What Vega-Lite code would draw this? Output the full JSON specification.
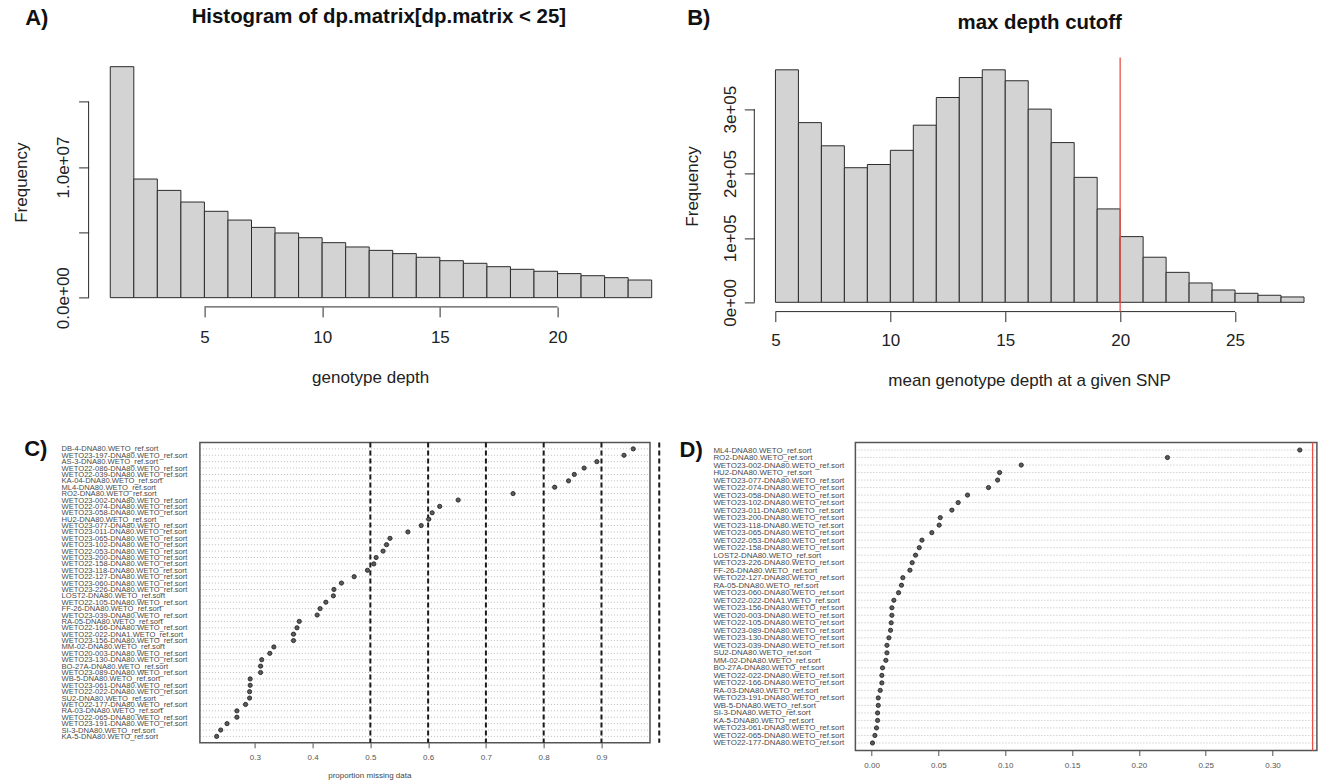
{
  "$schema": "https://vega.github.io/schema/vega-lite/v6.json",
  "autosize": {"type": "none"},
  "padding": {"left": 88.6, "top": 57.4, "right": 1230.4, "bottom": 726.6},
  "background": "white",
  "columns": 2,
  "align": "each",
  "bounds": "flush",
  "spacing": {"row": 130.1, "column": 101.7},
  "datasets": {
    "histA": [
      {"lo": 1, "hi": 2, "count": 17680000}, {"lo": 2, "hi": 3, "count": 9080000},
      {"lo": 3, "hi": 4, "count": 8210000}, {"lo": 4, "hi": 5, "count": 7320000},
      {"lo": 5, "hi": 6, "count": 6610000}, {"lo": 6, "hi": 7, "count": 5940000},
      {"lo": 7, "hi": 8, "count": 5380000}, {"lo": 8, "hi": 9, "count": 4950000},
      {"lo": 9, "hi": 10, "count": 4590000}, {"lo": 10, "hi": 11, "count": 4210000},
      {"lo": 11, "hi": 12, "count": 3880000}, {"lo": 12, "hi": 13, "count": 3620000},
      {"lo": 13, "hi": 14, "count": 3370000}, {"lo": 14, "hi": 15, "count": 3090000},
      {"lo": 15, "hi": 16, "count": 2830000}, {"lo": 16, "hi": 17, "count": 2630000},
      {"lo": 17, "hi": 18, "count": 2370000}, {"lo": 18, "hi": 19, "count": 2170000},
      {"lo": 19, "hi": 20, "count": 2020000}, {"lo": 20, "hi": 21, "count": 1840000},
      {"lo": 21, "hi": 22, "count": 1680000}, {"lo": 22, "hi": 23, "count": 1530000},
      {"lo": 23, "hi": 24, "count": 1350000}
    ],
    "histB": [
      {"lo": 5, "hi": 6, "count": 361000}, {"lo": 6, "hi": 7, "count": 279000},
      {"lo": 7, "hi": 8, "count": 243000}, {"lo": 8, "hi": 9, "count": 209000},
      {"lo": 9, "hi": 10, "count": 214000}, {"lo": 10, "hi": 11, "count": 236000},
      {"lo": 11, "hi": 12, "count": 275000}, {"lo": 12, "hi": 13, "count": 318000},
      {"lo": 13, "hi": 14, "count": 349000}, {"lo": 14, "hi": 15, "count": 361000},
      {"lo": 15, "hi": 16, "count": 344000}, {"lo": 16, "hi": 17, "count": 300000},
      {"lo": 17, "hi": 18, "count": 248000}, {"lo": 18, "hi": 19, "count": 194000},
      {"lo": 19, "hi": 20, "count": 145000}, {"lo": 20, "hi": 21, "count": 102000},
      {"lo": 21, "hi": 22, "count": 70000}, {"lo": 22, "hi": 23, "count": 46500},
      {"lo": 23, "hi": 24, "count": 30000}, {"lo": 24, "hi": 25, "count": 19100},
      {"lo": 25, "hi": 26, "count": 14000}, {"lo": 26, "hi": 27, "count": 10900},
      {"lo": 27, "hi": 28, "count": 8300}
    ],
    "missC": [
      {"sample": "DB-4-DNA80.WETO_ref.sort", "prop": 0.955},
      {"sample": "WETO23-197-DNA80.WETO_ref.sort", "prop": 0.939},
      {"sample": "AS-3-DNA80.WETO_ref.sort", "prop": 0.892},
      {"sample": "WETO22-086-DNA80.WETO_ref.sort", "prop": 0.870},
      {"sample": "WETO22-039-DNA80.WETO_ref.sort", "prop": 0.853},
      {"sample": "KA-04-DNA80.WETO_ref.sort", "prop": 0.843},
      {"sample": "ML4-DNA80.WETO_ref.sort", "prop": 0.819},
      {"sample": "RO2-DNA80.WETO_ref.sort", "prop": 0.747},
      {"sample": "WETO23-002-DNA80.WETO_ref.sort", "prop": 0.652},
      {"sample": "WETO22-074-DNA80.WETO_ref.sort", "prop": 0.620},
      {"sample": "WETO23-058-DNA80.WETO_ref.sort", "prop": 0.607},
      {"sample": "HU2-DNA80.WETO_ref.sort", "prop": 0.601},
      {"sample": "WETO23-077-DNA80.WETO_ref.sort", "prop": 0.588},
      {"sample": "WETO23-011-DNA80.WETO_ref.sort", "prop": 0.565},
      {"sample": "WETO23-065-DNA80.WETO_ref.sort", "prop": 0.534},
      {"sample": "WETO23-102-DNA80.WETO_ref.sort", "prop": 0.528},
      {"sample": "WETO22-053-DNA80.WETO_ref.sort", "prop": 0.522},
      {"sample": "WETO23-200-DNA80.WETO_ref.sort", "prop": 0.510},
      {"sample": "WETO22-158-DNA80.WETO_ref.sort", "prop": 0.506},
      {"sample": "WETO23-118-DNA80.WETO_ref.sort", "prop": 0.495},
      {"sample": "WETO22-127-DNA80.WETO_ref.sort", "prop": 0.472},
      {"sample": "WETO23-060-DNA80.WETO_ref.sort", "prop": 0.450},
      {"sample": "WETO23-226-DNA80.WETO_ref.sort", "prop": 0.437},
      {"sample": "LOST2-DNA80.WETO_ref.sort", "prop": 0.436},
      {"sample": "WETO22-105-DNA80.WETO_ref.sort", "prop": 0.423},
      {"sample": "FF-26-DNA80.WETO_ref.sort", "prop": 0.413},
      {"sample": "WETO23-039-DNA80.WETO_ref.sort", "prop": 0.408},
      {"sample": "RA-05-DNA80.WETO_ref.sort", "prop": 0.377},
      {"sample": "WETO22-166-DNA80.WETO_ref.sort", "prop": 0.373},
      {"sample": "WETO22-022-DNA1.WETO_ref.sort", "prop": 0.367},
      {"sample": "WETO23-156-DNA80.WETO_ref.sort", "prop": 0.367},
      {"sample": "MM-02-DNA80.WETO_ref.sort", "prop": 0.333},
      {"sample": "WETO20-003-DNA80.WETO_ref.sort", "prop": 0.326},
      {"sample": "WETO23-130-DNA80.WETO_ref.sort", "prop": 0.312},
      {"sample": "BO-27A-DNA80.WETO_ref.sort", "prop": 0.310},
      {"sample": "WETO23-089-DNA80.WETO_ref.sort", "prop": 0.310},
      {"sample": "WB-5-DNA80.WETO_ref.sort", "prop": 0.292},
      {"sample": "WETO23-061-DNA80.WETO_ref.sort", "prop": 0.292},
      {"sample": "WETO22-022-DNA80.WETO_ref.sort", "prop": 0.291},
      {"sample": "SU2-DNA80.WETO_ref.sort", "prop": 0.291},
      {"sample": "WETO22-177-DNA80.WETO_ref.sort", "prop": 0.284},
      {"sample": "RA-03-DNA80.WETO_ref.sort", "prop": 0.269},
      {"sample": "WETO22-065-DNA80.WETO_ref.sort", "prop": 0.269},
      {"sample": "WETO23-191-DNA80.WETO_ref.sort", "prop": 0.252},
      {"sample": "SI-3-DNA80.WETO_ref.sort", "prop": 0.241},
      {"sample": "KA-5-DNA80.WETO_ref.sort", "prop": 0.234}
    ],
    "cutC": [{"v": 0.5}, {"v": 0.6}, {"v": 0.7}, {"v": 0.8}, {"v": 0.9}, {"v": 1.0}],
    "missD": [
      {"sample": "ML4-DNA80.WETO_ref.sort", "prop": 0.3204},
      {"sample": "RO2-DNA80.WETO_ref.sort", "prop": 0.2214},
      {"sample": "WETO23-002-DNA80.WETO_ref.sort", "prop": 0.112},
      {"sample": "HU2-DNA80.WETO_ref.sort", "prop": 0.0958},
      {"sample": "WETO23-077-DNA80.WETO_ref.sort", "prop": 0.0943},
      {"sample": "WETO22-074-DNA80.WETO_ref.sort", "prop": 0.0875},
      {"sample": "WETO23-058-DNA80.WETO_ref.sort", "prop": 0.0718},
      {"sample": "WETO23-102-DNA80.WETO_ref.sort", "prop": 0.0648},
      {"sample": "WETO23-011-DNA80.WETO_ref.sort", "prop": 0.0601},
      {"sample": "WETO23-200-DNA80.WETO_ref.sort", "prop": 0.0514},
      {"sample": "WETO23-118-DNA80.WETO_ref.sort", "prop": 0.0506},
      {"sample": "WETO23-065-DNA80.WETO_ref.sort", "prop": 0.0451},
      {"sample": "WETO22-053-DNA80.WETO_ref.sort", "prop": 0.0377},
      {"sample": "WETO22-158-DNA80.WETO_ref.sort", "prop": 0.0357},
      {"sample": "LOST2-DNA80.WETO_ref.sort", "prop": 0.0329},
      {"sample": "WETO23-226-DNA80.WETO_ref.sort", "prop": 0.0304},
      {"sample": "FF-26-DNA80.WETO_ref.sort", "prop": 0.0287},
      {"sample": "WETO22-127-DNA80.WETO_ref.sort", "prop": 0.0234},
      {"sample": "RA-05-DNA80.WETO_ref.sort", "prop": 0.0224},
      {"sample": "WETO23-060-DNA80.WETO_ref.sort", "prop": 0.0202},
      {"sample": "WETO22-022-DNA1.WETO_ref.sort", "prop": 0.0167},
      {"sample": "WETO23-156-DNA80.WETO_ref.sort", "prop": 0.0152},
      {"sample": "WETO20-003-DNA80.WETO_ref.sort", "prop": 0.0152},
      {"sample": "WETO22-105-DNA80.WETO_ref.sort", "prop": 0.0147},
      {"sample": "WETO23-089-DNA80.WETO_ref.sort", "prop": 0.0142},
      {"sample": "WETO23-130-DNA80.WETO_ref.sort", "prop": 0.0130},
      {"sample": "WETO23-039-DNA80.WETO_ref.sort", "prop": 0.0115},
      {"sample": "SU2-DNA80.WETO_ref.sort", "prop": 0.0115},
      {"sample": "MM-02-DNA80.WETO_ref.sort", "prop": 0.0107},
      {"sample": "BO-27A-DNA80.WETO_ref.sort", "prop": 0.0082},
      {"sample": "WETO22-022-DNA80.WETO_ref.sort", "prop": 0.0077},
      {"sample": "WETO22-166-DNA80.WETO_ref.sort", "prop": 0.0077},
      {"sample": "RA-03-DNA80.WETO_ref.sort", "prop": 0.0065},
      {"sample": "WETO23-191-DNA80.WETO_ref.sort", "prop": 0.0050},
      {"sample": "WB-5-DNA80.WETO_ref.sort", "prop": 0.0050},
      {"sample": "SI-3-DNA80.WETO_ref.sort", "prop": 0.0045},
      {"sample": "KA-5-DNA80.WETO_ref.sort", "prop": 0.0045},
      {"sample": "WETO23-061-DNA80.WETO_ref.sort", "prop": 0.0037},
      {"sample": "WETO22-065-DNA80.WETO_ref.sort", "prop": 0.0025},
      {"sample": "WETO22-177-DNA80.WETO_ref.sort", "prop": 0.0007}
    ]
  },
  "concat": [
    {
      "width": 563.1, "height": 249.5,
      "layer": [
        {
          "data": {"name": "histA"},
          "mark": {"type": "rect", "fill": "#d3d3d3", "stroke": "#2b2b2b", "strokeWidth": 1},
          "encoding": {
            "x": {"field": "lo", "type": "quantitative",
              "scale": {"domain": [0.08, 24], "nice": false, "zero": false},
              "axis": {"values": [5, 10, 15, 20], "domain": false, "tickSize": 10, "labelFontSize": 17,
                "labelBaseline": "middle", "labelPadding": 21, "labelFlush": false, "labelOverlap": false,
                "title": "genotype depth", "titleFontSize": 17, "titleY": 71, "titleBaseline": "middle"}},
            "x2": {"field": "hi"},
            "y": {"field": "count", "type": "quantitative",
              "scale": {"domain": [-707000, 18390000], "nice": false, "zero": false},
              "axis": {"values": [0, 5000000, 10000000, 15000000], "domain": false, "tickSize": 10, "labelFontSize": 17,
                "labelAngle": 270, "labelAlign": "center", "labelBaseline": "middle", "labelPadding": 15.6,
                "labelFlush": false, "labelOverlap": false,
                "labelExpr": "datum.value == 0 ? '0.0e+00' : (datum.value == 10000000 ? '1.0e+07' : '')",
                "title": "Frequency", "titleFontSize": 17, "titleX": -67.6, "titleY": 124.75, "titleAngle": 270,
                "titleAlign": "center", "titleBaseline": "middle"}},
            "y2": {"datum": 0}
          }
        },
        {"data": {"values": [{}]}, "mark": {"type": "rule", "color": "#2b2b2b"},
          "encoding": {"x": {"datum": 0.08}, "y": {"datum": 0}, "y2": {"datum": 15000000}}},
        {"data": {"values": [{}]}, "mark": {"type": "rule", "color": "#2b2b2b"},
          "encoding": {"x": {"datum": 5}, "x2": {"datum": 20}, "y": {"datum": -707000}}},
        {"data": {"values": [{}]}, "mark": {"type": "text", "fontSize": 22, "fontWeight": "bold", "color": "#111"},
          "encoding": {"text": {"value": "A)"}, "x": {"datum": -2.12}, "y": {"datum": 21400000}}},
        {"data": {"values": [{}]}, "mark": {"type": "text", "fontSize": 20.4, "fontWeight": "bold", "color": "#111"},
          "encoding": {"text": {"value": "Histogram of dp.matrix[dp.matrix < 25]"}, "x": {"datum": 12.41}, "y": {"datum": 21480000}}}
      ]
    },
    {
      "width": 549.7, "height": 254.2,
      "layer": [
        {
          "data": {"name": "histB"},
          "mark": {"type": "rect", "fill": "#d3d3d3", "stroke": "#2b2b2b", "strokeWidth": 1},
          "encoding": {
            "x": {"field": "lo", "type": "quantitative",
              "scale": {"domain": [4.08, 28], "nice": false, "zero": false},
              "axis": {"values": [5, 10, 15, 20, 25], "domain": false, "tickSize": 10, "labelFontSize": 17,
                "labelBaseline": "middle", "labelPadding": 18.4, "labelFlush": false, "labelOverlap": false,
                "title": "mean genotype depth at a given SNP", "titleFontSize": 17, "titleY": 68.4, "titleBaseline": "middle"}},
            "x2": {"field": "hi"},
            "y": {"field": "count", "type": "quantitative",
              "scale": {"domain": [-14440, 380280], "nice": false, "zero": false},
              "axis": {"values": [0, 100000, 200000, 300000], "domain": false, "tickSize": 10, "labelFontSize": 17,
                "labelAngle": 270, "labelAlign": "center", "labelBaseline": "middle", "labelPadding": 14,
                "labelFlush": false, "labelOverlap": false,
                "labelExpr": "datum.value == 0 ? '0e+00' : (datum.value == 100000 ? '1e+05' : (datum.value == 200000 ? '2e+05' : '3e+05'))",
                "title": "Frequency", "titleFontSize": 17, "titleX": -61.8, "titleY": 128.6, "titleAngle": 270,
                "titleAlign": "center", "titleBaseline": "middle"}},
            "y2": {"datum": 0}
          }
        },
        {"data": {"values": [{}]}, "mark": {"type": "rule", "color": "#2b2b2b"},
          "encoding": {"x": {"datum": 4.08}, "y": {"datum": 0}, "y2": {"datum": 300000}}},
        {"data": {"values": [{}]}, "mark": {"type": "rule", "color": "#2b2b2b"},
          "encoding": {"x": {"datum": 5}, "x2": {"datum": 25}, "y": {"datum": -14440}}},
        {"data": {"values": [{}]}, "mark": {"type": "rule", "color": "#e8504a", "strokeWidth": 1.3},
          "encoding": {"x": {"datum": 20}}},
        {"data": {"values": [{}]}, "mark": {"type": "text", "fontSize": 22, "fontWeight": "bold", "color": "#111"},
          "encoding": {"text": {"value": "B)"}, "x": {"datum": 1.665}, "y": {"datum": 441460}}},
        {"data": {"values": [{}]}, "mark": {"type": "text", "fontSize": 20.4, "fontWeight": "bold", "color": "#111"},
          "encoding": {"text": {"value": "max depth cutoff"}, "x": {"datum": 16.5}, "y": {"datum": 433700}}}
      ]
    },
    {
      "width": 561.4, "height": 300.3,
      "layer": [
        {
          "data": {"name": "missC"},
          "mark": {"type": "rule", "color": "#bdbdbd", "strokeDash": [1, 2], "strokeWidth": 1},
          "encoding": {
            "y": {"field": "sample", "type": "nominal", "sort": null,
              "scale": {"type": "point", "padding": 1},
              "axis": {"domain": false, "ticks": false, "tickSize": 0, "labelAlign": "left", "labelBaseline": "middle",
                "labelPadding": 27.6, "labelFontSize": 7.6, "labelColor": "#4a4a4a", "labelLimit": 0,
                "labelOverlap": false, "title": null}},
            "x": {"datum": 0.205, "scale": {"domain": [0.01237, 0.984], "nice": false, "zero": false}},
            "x2": {"datum": 0.984}
          }
        },
        {
          "data": {"values": [{}]},
          "mark": {"type": "rect", "filled": false, "color": "#555555", "strokeWidth": 1.5},
          "encoding": {"x": {"datum": 0.205}, "x2": {"datum": 0.984}}
        },
        {
          "data": {"name": "cutC"},
          "mark": {"type": "rule", "color": "#1a1a1a", "strokeDash": [5, 3], "strokeWidth": 2},
          "encoding": {
            "x": {"field": "v", "type": "quantitative",
              "axis": {"values": [0.3, 0.4, 0.5, 0.6, 0.7, 0.8, 0.9], "format": ".1f", "domain": false, "tickSize": 5,
                "labelFontSize": 8, "labelColor": "#555555", "labelBaseline": "middle", "labelPadding": 9.7,
                "labelFlush": false, "labelOverlap": false, "tickColor": "#555555",
                "title": "proportion missing data", "titleFontSize": 8, "titleColor": "#444444", "titleY": 33, "titleBaseline": "middle"}}
          }
        },
        {
          "data": {"name": "missC"},
          "mark": {"type": "circle", "size": 18, "color": "#5a5a5a", "stroke": "#1a1a1a", "strokeWidth": 0.8, "opacity": 1},
          "encoding": {
            "x": {"field": "prop", "type": "quantitative"},
            "y": {"field": "sample", "type": "nominal", "sort": null}
          }
        },
        {"data": {"values": [{}]}, "mark": {"type": "text", "fontSize": 22, "fontWeight": "bold", "color": "#111"},
          "encoding": {"text": {"value": "C)"}, "x": {"datum": -0.079},
            "y": {"datum": "DB-4-DNA80.WETO_ref.sort", "type": "nominal"}}}
      ]
    },
    {
      "width": 562.6, "height": 308,
      "layer": [
        {
          "data": {"name": "missD"},
          "mark": {"type": "rule", "color": "#bdbdbd", "strokeDash": [1, 2], "strokeWidth": 1},
          "encoding": {
            "y": {"field": "sample", "type": "nominal", "sort": null,
              "scale": {"type": "point", "padding": 1},
              "axis": {"domain": false, "ticks": false, "tickSize": 0, "labelAlign": "left", "labelBaseline": "middle",
                "labelPadding": 41.4, "labelFontSize": 7.9, "labelColor": "#4a4a4a", "labelLimit": 0,
                "labelOverlap": false, "title": null}},
            "x": {"datum": -0.0121, "scale": {"domain": [-0.08773, 0.3332], "nice": false, "zero": false}},
            "x2": {"datum": 0.3332}
          }
        },
        {
          "data": {"values": [{}]},
          "mark": {"type": "rect", "filled": false, "color": "#555555", "strokeWidth": 1.5},
          "encoding": {"x": {"datum": -0.0121}, "x2": {"datum": 0.3332}}
        },
        {
          "data": {"name": "missD"},
          "mark": {"type": "circle", "size": 18, "color": "#5a5a5a", "stroke": "#1a1a1a", "strokeWidth": 0.8, "opacity": 1},
          "encoding": {
            "x": {"field": "prop", "type": "quantitative",
              "axis": {"values": [0, 0.05, 0.1, 0.15, 0.2, 0.25, 0.3], "format": ".2f", "domain": false, "tickSize": 5,
                "labelFontSize": 8, "labelColor": "#555555", "labelBaseline": "middle", "labelPadding": 9.7,
                "labelFlush": false, "labelOverlap": false, "tickColor": "#555555", "title": null}},
            "y": {"field": "sample", "type": "nominal", "sort": null}
          }
        },
        {"data": {"values": [{}]}, "mark": {"type": "rule", "color": "#e8504a", "strokeWidth": 1.3},
          "encoding": {"x": {"datum": 0.33}}},
        {"data": {"values": [{}]}, "mark": {"type": "text", "fontSize": 22, "fontWeight": "bold", "color": "#111"},
          "encoding": {"text": {"value": "D)"}, "x": {"datum": -0.135},
            "y": {"datum": "ML4-DNA80.WETO_ref.sort", "type": "nominal"}}}
      ]
    }
  ],
  "config": {
    "view": {"stroke": null},
    "font": "Liberation Sans",
    "text": {"font": "Liberation Sans"},
    "axis": {"labelFont": "Liberation Sans", "titleFont": "Liberation Sans", "grid": false,
      "labelColor": "#222222", "titleColor": "#222222", "tickColor": "#2b2b2b", "titleFontWeight": "normal"}
  }
}
